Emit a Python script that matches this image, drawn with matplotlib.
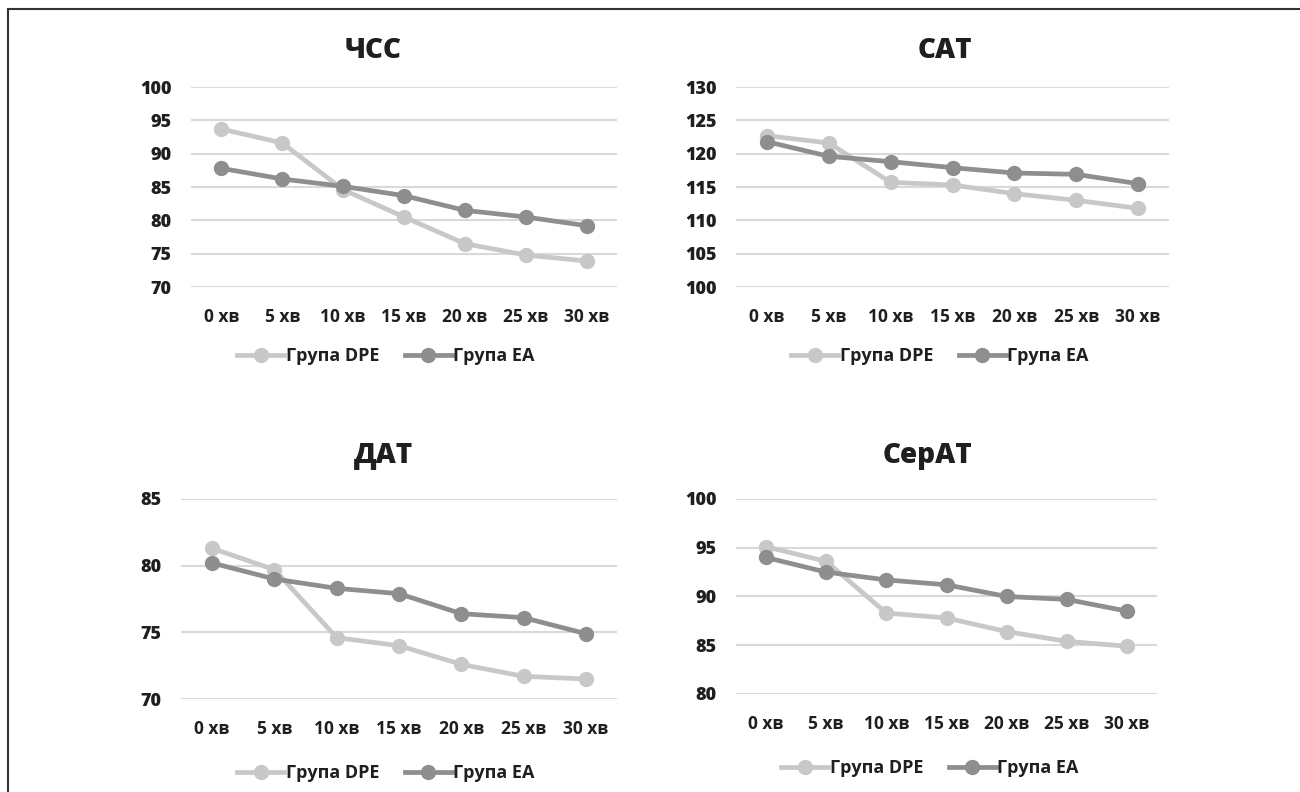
import matplotlib.pyplot as plt
from matplotlib.lines import Line2D

plt.rcParams['font.family'] = ['Open Sans', 'DejaVu Sans']
plt.rcParams['font.weight'] = 'bold'

categories = ['0 хв', '5 хв', '10 хв', '15 хв', '20 хв', '25 хв', '30 хв']
series_names = ['Група DPE', 'Група EA']

hss_dpe = [93.7, 91.6, 84.6, 80.5, 76.5, 74.8, 73.9]
hss_ea = [87.8, 86.2, 85.1, 83.7, 81.5, 80.5, 79.2]
sat_dpe = [122.7, 121.6, 115.7, 115.3, 114.0, 113.0, 111.8]
sat_ea = [121.8, 119.6, 118.8, 117.9, 117.1, 116.9, 115.5]
dat_dpe = [81.3, 79.7, 74.6, 74.0, 72.6, 71.7, 71.5]
dat_ea = [80.2, 79.0, 78.3, 77.9, 76.4, 76.1, 74.9]
ser_dpe = [95.1, 93.6, 88.3, 87.8, 86.4, 85.4, 84.9]
ser_ea = [94.0, 92.5, 91.7, 91.2, 90.0, 89.7, 88.5]

titles = ['ЧСС', 'САТ', 'ДАТ', 'СерАТ']
ylims = [(70, 100), (100, 130), (70, 85), (80, 100)]

c_dpe = '#c8c8c8'
c_ea = '#8e8e90'
txt = '#1f1f1f'

fig = plt.figure(figsize=(13, 7.92), dpi=100)
W, H = 1300, 792

def fx(px):
    return px / W

def fy(py):
    return 1 - py / H

# axes boxes in pixels: left, right, top, bottom
boxes = [(191, 617, 87, 287), (736, 1169, 87, 287),
         (181, 617, 499, 699), (736, 1157, 499, 694)]
title_pos = [(373, 51), (945, 51), (383, 455), (927, 455)]
legend_pos = [(386, 356), (940, 356), (386, 773), (930, 768)]
data = [(hss_dpe, hss_ea), (sat_dpe, sat_ea), (dat_dpe, dat_ea), (ser_dpe, ser_ea)]

for i in range(4):
    l, r, t, b = boxes[i]
    ax = fig.add_axes([fx(l), fy(b), fx(r) - fx(l), fy(t) - fy(b)])
    dpe, ea = data[i]
    x = range(len(categories))
    ax.plot(x, dpe, color=c_dpe, lw=3.4, marker='o', ms=10, zorder=3)
    ax.plot(x, ea, color=c_ea, lw=3.4, marker='o', ms=10, zorder=4)
    ax.set_xlim(-0.5, len(categories) - 0.5)
    ax.set_ylim(*ylims[i])
    ax.set_yticks(range(ylims[i][0], ylims[i][1] + 1, 5))
    ax.set_xticks(list(x))
    ax.set_xticklabels(categories)
    ax.grid(axis='y', color='#d9d9d9', lw=1.5)
    ax.set_axisbelow(True)
    for s in ax.spines.values():
        s.set_visible(False)
    ax.tick_params(axis='both', length=0, colors=txt)
    ax.tick_params(axis='x', pad=15, labelsize=12.5)
    ax.tick_params(axis='y', pad=14, labelsize=13)
    for lab in ax.get_yticklabels():
        lab.set_fontweight(800)
    for lab in ax.get_xticklabels():
        lab.set_fontweight(700)
    ax.patch.set_alpha(0)

    tx, ty = title_pos[i]
    fig.text(fx(tx), fy(ty), titles[i], ha='center', va='center',
             fontsize=20, fontweight=800, color=txt)

    handles = [Line2D([], [], color=c_dpe, lw=3.4, marker='o', ms=10),
               Line2D([], [], color=c_ea, lw=3.4, marker='o', ms=10)]
    lx, ly = legend_pos[i]
    leg = fig.legend(handles, series_names, loc='center', bbox_to_anchor=(fx(lx), fy(ly)),
                     ncol=2, frameon=False, handlelength=2.6,
                     handletextpad=0.1, columnspacing=1.4,
                     prop={'size': 13, 'weight': 700})
    for t_ in leg.get_texts():
        t_.set_color(txt)

# outer frame (top and left edges visible)
fig.add_artist(Line2D([fx(8), 1], [fy(9), fy(9)], color='#333333', lw=1.5))
fig.add_artist(Line2D([fx(8), fx(8)], [fy(9), 0], color='#333333', lw=1.5))

fig.savefig('out.png', dpi=100)
